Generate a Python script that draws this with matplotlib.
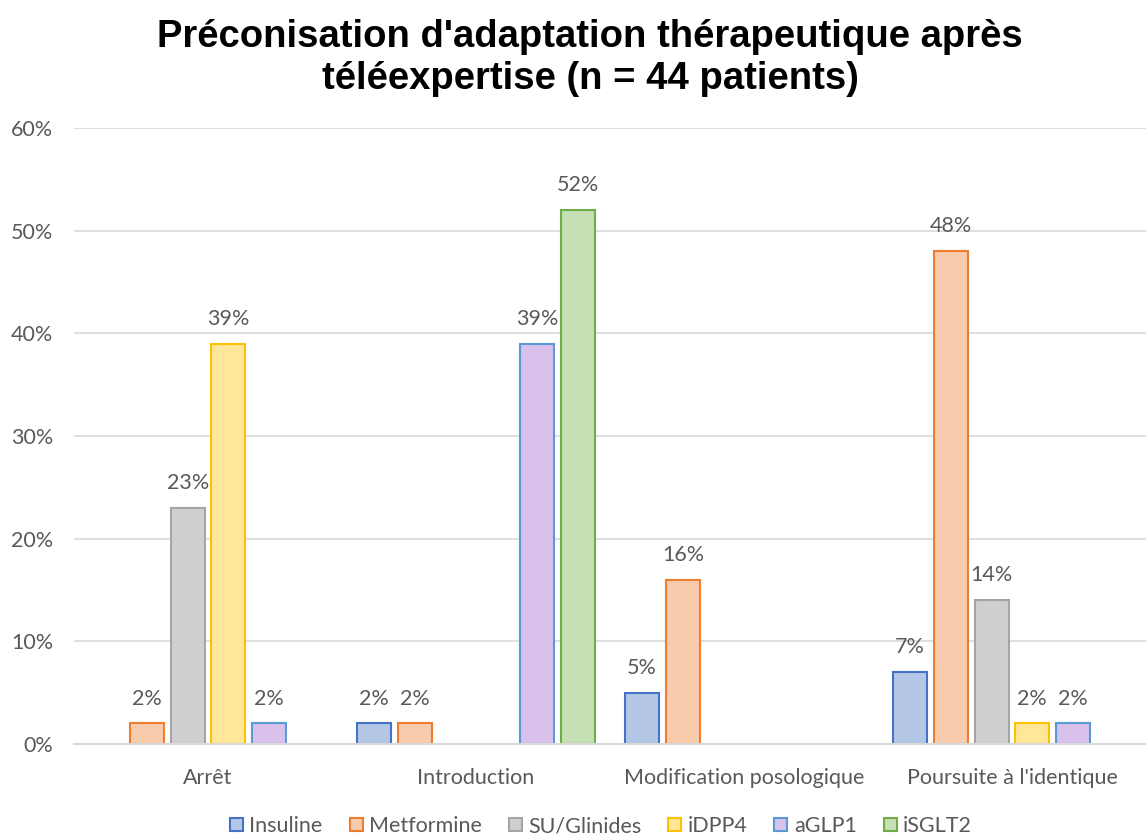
import matplotlib
matplotlib.use("Agg")
import matplotlib.pyplot as plt
import numpy as np
from matplotlib.patches import Patch
from matplotlib.ticker import FuncFormatter

categories = ["Arrêt", "Introduction", "Modification posologique", "Poursuite à l'identique"]
series = ["Insuline", "Metformine", "SU/Glinides", "iDPP4", "aGLP1", "iSGLT2"]
insuline = [None, 2, 5, 7]
metformine = [2, 2, 16, 48]
su_glinides = [23, None, None, 14]
idpp4 = [39, None, None, 2]
aglp1 = [2, 39, None, 2]
isglt2 = [None, 52, None, None]
values = [insuline, metformine, su_glinides, idpp4, aglp1, isglt2]

fills = ["#B4C7E7", "#F8CBAD", "#D0CECE", "#FFE699", "#D9C1EC", "#C5E0B4"]
edges = ["#4472C4", "#ED7D31", "#A5A5A5", "#FFC000", "#5B9BD5", "#70AD47"]

plt.rcParams['font.family'] = ['Lato', 'DejaVu Sans']
gray = "#595959"
fs = 15.5

fig = plt.figure(figsize=(11.46, 8.38), dpi=100)
ax = fig.add_axes([74/1146, 1 - 744/838, 1072/1146, (744 - 128)/838])

step = 0.152
width = 0.127
x = np.arange(len(categories))
for j, (name, vals) in enumerate(zip(series, values)):
    for i, v in enumerate(vals):
        if v is None:
            continue
        xp = x[i] + (j - 2.5) * step
        ax.bar(xp, v, width=width, color=fills[j], edgecolor=edges[j], linewidth=1.5, zorder=3)
        ax.text(xp, v + 1.45, f"{v}%", ha="center", va="bottom", fontsize=fs, color=gray, zorder=4)

ax.set_xlim(-0.5, len(categories) - 0.5)
ax.set_ylim(0, 60)
ax.set_yticks(range(0, 61, 10))
ax.yaxis.set_major_formatter(FuncFormatter(lambda v, p: f"{int(v)}%"))
ax.set_xticks(x)
ax.set_xticklabels(categories)
ax.grid(axis="y", color="#D9D9D9", linewidth=1.2, zorder=0)
for s in ["top", "right", "left"]:
    ax.spines[s].set_visible(False)
ax.spines["bottom"].set_color("#D9D9D9")
ax.spines["bottom"].set_linewidth(1.5)
ax.spines["bottom"].set_zorder(5)
ax.tick_params(axis="both", length=0, labelsize=fs, labelcolor=gray)
ax.tick_params(axis="y", pad=15)
ax.tick_params(axis="x", pad=17)

fig.text(0.515, 1 - 58/838, "Préconisation d'adaptation thérapeutique après\ntéléexpertise (n = 44 patients)",
         ha="center", va="center", fontsize=27.5, fontweight="bold", family="Liberation Sans",
         linespacing=1.2)

handles = [Patch(facecolor=fills[j], edgecolor=edges[j], linewidth=1.5) for j in range(len(series))]
fig.legend(handles, series, loc="center", bbox_to_anchor=(601/1146, 1 - 826/838), ncol=6, frameon=False,
           fontsize=fs, labelcolor=gray, handlelength=0.6, handleheight=0.6, handletextpad=0.3,
           columnspacing=1.25)

fig.savefig("out.png", dpi=100)
